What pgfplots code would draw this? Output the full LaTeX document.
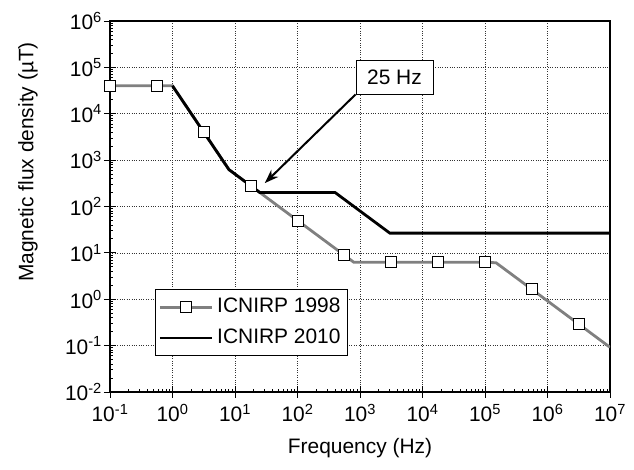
\documentclass[border=0pt]{standalone}
\usepackage{fontspec}
\setmainfont{Liberation Sans}
\usepackage{pgfplots}
\pgfplotsset{compat=1.18}
\usetikzlibrary{arrows.meta}
\definecolor{linegray}{RGB}{128,128,128}

\begin{document}
\fontsize{21}{25}\selectfont
\begin{tikzpicture}
\path[use as bounding box] (-110bp,-78bp) rectangle (524bp,392bp);
\begin{axis}[
    scale only axis,
    width=500bp, height=371bp,
    at={(0,0)}, anchor=south west,
    xmode=log, ymode=log,
    xmin=1e-1, xmax=1e7, ymin=1e-2, ymax=1e6,
    xtick={1e-1,1e0,1e1,1e2,1e3,1e4,1e5,1e6,1e7},
    xticklabels={10\textsuperscript{-1},10\textsuperscript{0},10\textsuperscript{1},10\textsuperscript{2},10\textsuperscript{3},10\textsuperscript{4},10\textsuperscript{5},10\textsuperscript{6},10\textsuperscript{7}},
    minor xtick={0.2,0.3,0.4,0.5,0.6,0.7,0.8,0.9,
        2,3,4,5,6,7,8,9,
        20,30,40,50,60,70,80,90,
        200,300,400,500,600,700,800,900,
        2e3,3e3,4e3,5e3,6e3,7e3,8e3,9e3,
        2e4,3e4,4e4,5e4,6e4,7e4,8e4,9e4,
        2e5,3e5,4e5,5e5,6e5,7e5,8e5,9e5,
        2e6,3e6,4e6,5e6,6e6,7e6,8e6,9e6},
    ytick={1e-2,1e-1,1e0,1e1,1e2,1e3,1e4,1e5,1e6},
    yticklabels={10\textsuperscript{-2},10\textsuperscript{-1},10\textsuperscript{0},10\textsuperscript{1},10\textsuperscript{2},10\textsuperscript{3},10\textsuperscript{4},10\textsuperscript{5},10\textsuperscript{6}},
    minor ytick={0.02,0.03,0.04,0.05,0.06,0.07,0.08,0.09,
        0.2,0.3,0.4,0.5,0.6,0.7,0.8,0.9,
        2,3,4,5,6,7,8,9,
        20,30,40,50,60,70,80,90,
        200,300,400,500,600,700,800,900,
        2e3,3e3,4e3,5e3,6e3,7e3,8e3,9e3,
        2e4,3e4,4e4,5e4,6e4,7e4,8e4,9e4,
        2e5,3e5,4e5,5e5,6e5,7e5,8e5,9e5},
    xtick pos=left, ytick pos=left,
    tick align=inside,
    major tick length=6bp, minor tick length=3.5bp,
    every tick/.style={black, line width=0.9pt},
    extra x ticks={1e-1,1e0,1e1,1e2,1e3,1e4,1e5,1e6,1e7},
    extra x tick labels={},
    extra x tick style={tick align=outside, grid=none},
    extra y ticks={1e-2,1e-1,1e0,1e1,1e2,1e3,1e4,1e5,1e6},
    extra y tick labels={},
    extra y tick style={tick align=outside, grid=none},
    xticklabel style={yshift=-5bp},
    yticklabel style={xshift=-1bp},
    grid=major,
    grid style={dotted, black!80, line width=0.7pt},
    axis line style={line width=1.2pt},
    xlabel={Frequency (Hz)},
    ylabel={Magnetic flux density (µT)},
    xlabel style={at={(axis description cs:0.5,-0.152)}, anchor=center},
    ylabel style={at={(axis description cs:-0.164,0.62)}, anchor=center},
    legend style={at={(axis description cs:0.09,0.278)}, anchor=north west,
        draw=black, line width=0.9pt, inner xsep=3bp, inner ysep=7bp,
        row sep=9bp, nodes={inner xsep=4bp, inner ysep=2bp}},
    legend cell align=left,
]

% ICNIRP 1998: corner frequencies plus the sampled (marked) points
\addplot[linegray, line width=2.8pt, mark=square*,
    mark indices={1,2,4,6,8,9,11,12,13,15,16}, mark size=5.5bp,
    mark options={solid, fill=white, draw=black, line width=0.8pt},
    legend image code/.code={
        \draw[linegray, line width=2.8pt] (0bp,0bp) -- (52bp,0bp);
        \draw[black, line width=0.8pt, fill=white] (20.5bp,-5.5bp) rectangle (31.5bp,5.5bp);
    }] table {
0.1       40000
0.5623    40000
1         40000
3.162     4000
8         625
17.78     281.2
25        200
100       50
562.3     8.89
800       6.25
3162      6.25
17783     6.25
100000    6.25
150000    6.13
562300    1.636
3162000   0.291
10000000  0.092
};
\addlegendentry{ICNIRP 1998}

% ICNIRP 2010
\addplot[black, line width=2.8pt, no marks,
    legend image code/.code={
        \draw[black, line width=2.8pt] (0bp,0bp) -- (52bp,0bp);
    }] table {
1         40000
8         625
25        200
400       200
3000      26.67
10000000  26.67
};
\addlegendentry{ICNIRP 2010}

\node[draw=black, line width=0.8pt, fill=white, minimum width=77bp,
    minimum height=34bp, inner sep=0pt] (lbl) at (axis cs:3565,6.2e4) {25 Hz};
\draw[black, line width=2pt, -{Stealth[length=14bp, width=10bp]}]
    (lbl.south west) -- (axis cs:30,320);
\end{axis}
\end{tikzpicture}
\end{document}
